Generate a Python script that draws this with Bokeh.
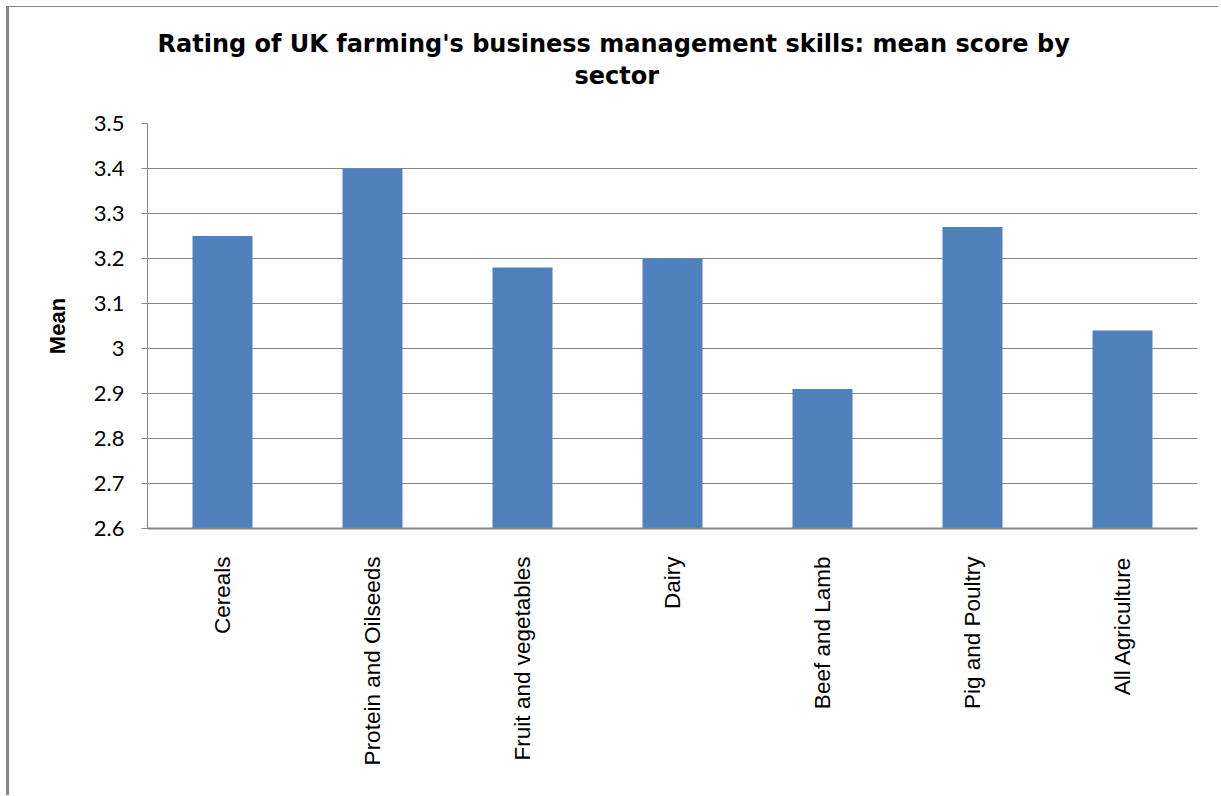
from math import pi
from bokeh.plotting import figure
from bokeh.models import Range1d, FixedTicker, Title
from bokeh.embed import file_html
from bokeh.resources import INLINE

# ---- data ----
categories = ["Cereals", "Protein and Oilseeds", "Fruit and vegetables", "Dairy",
              "Beef and Lamb", "Pig and Poultry", "All Agriculture"]
means = [3.25, 3.40, 3.18, 3.20, 2.91, 3.27, 3.04]
y_ticks = [2.6, 2.7, 2.8, 2.9, 3.0, 3.1, 3.2, 3.3, 3.4, 3.5]
y_tick_labels = ["2.6", "2.7", "2.8", "2.9", "3", "3.1", "3.2", "3.3", "3.4", "3.5"]
title_lines = ["Rating of UK farming's business management skills: mean score by", "sector"]
y_label = "Mean"

# ---- layout ----
W, H = 1212, 789
left, right, bottom = 138, 24, 268
y0, y1 = y_ticks[0], y_ticks[-1]
n = len(categories)
xs = [i + 0.5 for i in range(n)]

p = figure(width=W, height=H, output_backend="svg", toolbar_location=None,
           x_range=Range1d(0, n), y_range=Range1d(y0, y1),
           min_border_left=left, min_border_right=right,
           min_border_top=0, min_border_bottom=bottom)
p.background_fill_color = "white"
p.border_fill_color = "white"
p.outline_line_color = None
p.styles = {"margin-left": "6px", "margin-top": "6px",
            "border-left": "3px solid #878787", "border-top": "1px solid #878787"}

p.vbar(x=xs, top=means, bottom=y0, width=0.4, fill_color="#4F81BD", line_color=None)

# grid
p.xgrid.grid_line_color = None
p.ygrid.grid_line_color = "#868686"
p.ygrid.grid_line_width = 1
p.ygrid.ticker = FixedTicker(ticks=y_ticks)

# y axis
ya = p.yaxis[0]
ya.ticker = FixedTicker(ticks=y_ticks)
ya.major_label_overrides = {t: l for t, l in zip(y_ticks, y_tick_labels)}
ya.axis_line_color = "#868686"
ya.major_tick_line_color = "#868686"
ya.major_tick_out = 6
ya.major_tick_in = 0
ya.minor_tick_line_color = None
ya.major_label_text_font = "Lato"
ya.major_label_text_font_size = "22px"
ya.major_label_text_color = "black"
ya.major_label_standoff = 17
ya.axis_label = y_label
ya.axis_label_text_font = "Liberation Sans"
ya.axis_label_text_font_style = "bold"
ya.axis_label_text_font_size = "22px"
ya.axis_label_text_color = "black"
ya.axis_label_standoff = 21

# x axis
xa = p.xaxis[0]
xa.ticker = FixedTicker(ticks=xs)
xa.major_label_overrides = {x: c for x, c in zip(xs, categories)}
xa.major_label_orientation = pi / 2
xa.axis_line_color = "#868686"
xa.axis_line_width = 2
xa.major_tick_line_color = None
xa.major_tick_out = 0
xa.major_tick_in = 0
xa.minor_tick_line_color = None
xa.major_label_text_font = "Liberation Sans"
xa.major_label_text_font_size = "22.5px"
xa.major_label_text_color = "black"
xa.major_label_standoff = 28

# title: stacked from the plot area upwards (spacer, line 2, line 1, spacer)
def add_title(text, offset, standoff, size="24px", color="black"):
    p.add_layout(Title(text=text, align="left", offset=offset, standoff=standoff,
                       text_font="DejaVu Sans", text_font_style="bold",
                       text_font_size=size, text_color=color),
                 "above")

add_title("x", 0, 20, size="10px", color="white")
add_title(title_lines[1], 427, 2)
add_title(title_lines[0], 10, 2)
add_title("x", 0, 6, size="10px", color="white")

open("out.html", "w").write(file_html(p, INLINE))
